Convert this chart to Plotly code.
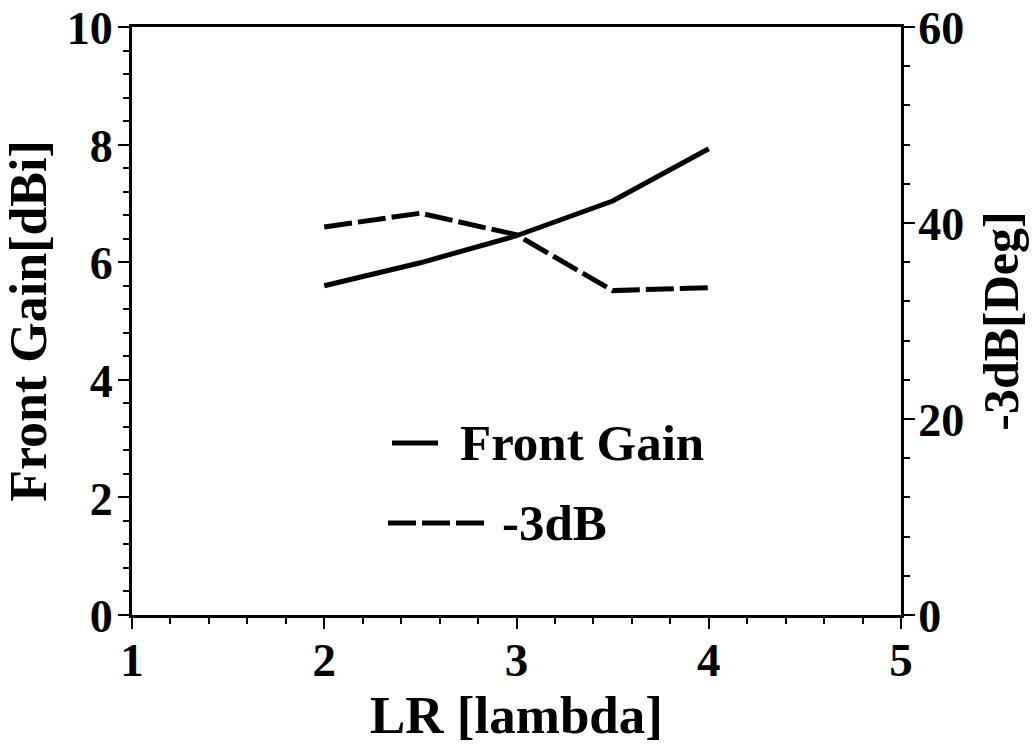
import plotly.graph_objects as go

lr = [2, 2.5, 3, 3.5, 4]
front_gain = [5.6, 5.99, 6.45, 7.04, 7.93]
minus3db = [39.6, 41.0, 38.8, 33.1, 33.4]

x_ticks = [1, 2, 3, 4, 5]
y_ticks = [0, 2, 4, 6, 8, 10]
y2_ticks = [0, 20, 40, 60]

FONT = "Liberation Serif"
def f(size):
    return dict(family=FONT, size=size, color="black", weight="bold")

# plot area at x 132..901, y 27..615 (page body margin removed in post_script)
L, T, W, H = 132, 27, 769, 588

fig = go.Figure()
fig.add_trace(go.Scatter(x=lr, y=front_gain, mode="lines", name="Front Gain",
                         line=dict(color="black", width=5), yaxis="y"))
fig.add_trace(go.Scatter(x=lr, y=minus3db, mode="lines", name="-3dB",
                         line=dict(color="black", width=5, dash="28px,6px"), yaxis="y2"))

axis_common = dict(showgrid=False, zeroline=False, showline=True, linecolor="black",
                   linewidth=3, ticks="outside", ticklen=11, tickwidth=2, tickcolor="black",
                   automargin=False, ticklabeloverflow="allow")

fig.update_layout(
    width=1035, height=749,
    margin=dict(l=L, r=1035 - L - W, t=T, b=749 - T - H),
    paper_bgcolor="white", plot_bgcolor="white",
    showlegend=False,
    xaxis=dict(range=[1, 5], tickvals=x_ticks, mirror=True, ticklabelstandoff=-9,
               tickfont=f(47),
               minor=dict(dtick=0.2, tick0=1, ticks="outside", ticklen=6, tickwidth=1.5, tickcolor="black"),
               title=dict(text="LR [lambda]", font=f(53), standoff=2),
               **axis_common),
    yaxis=dict(range=[0, 10], tickvals=y_ticks, ticklabelstandoff=-4, ticklabelshift=1,
               tickfont=f(46),
               minor=dict(dtick=0.4, tick0=0, ticks="outside", ticklen=6, tickwidth=1.5, tickcolor="black"),
               title=dict(text="Front Gain[dBi]", font=f(52), standoff=14),
               **axis_common),
    yaxis2=dict(range=[0, 60], tickvals=y2_ticks, overlaying="y", side="right",
                ticklabelstandoff=-6, ticklabelshift=1, tickfont=f(46),
                minor=dict(dtick=4, tick0=0, ticks="outside", ticklen=6, tickwidth=1.5, tickcolor="black"),
                title=dict(text="-3dB[Deg]", font=f(50), standoff=20),
                **axis_common),
)

def px(xp):
    return (xp - L) / W

def py(yp):
    return (T + H - yp) / H

# manual legend
fig.add_shape(type="line", xref="paper", yref="paper",
              x0=px(392), x1=px(438), y0=py(443), y1=py(443),
              line=dict(color="black", width=5))
fig.add_shape(type="line", xref="paper", yref="paper",
              x0=px(388), x1=px(487), y0=py(523), y1=py(523),
              line=dict(color="black", width=5, dash="28px,6px"))
fig.add_annotation(xref="paper", yref="paper", x=px(458), y=py(443),
                   text="Front Gain", showarrow=False, xanchor="left", yanchor="middle",
                   font=f(51))
fig.add_annotation(xref="paper", yref="paper", x=px(500), y=py(523),
                   text="-3dB", showarrow=False, xanchor="left", yanchor="middle",
                   font=f(51))

fig.write_html("out.html", config={"displayModeBar": False},
               post_script="document.body.style.margin='0px';document.body.style.overflow='hidden';")
